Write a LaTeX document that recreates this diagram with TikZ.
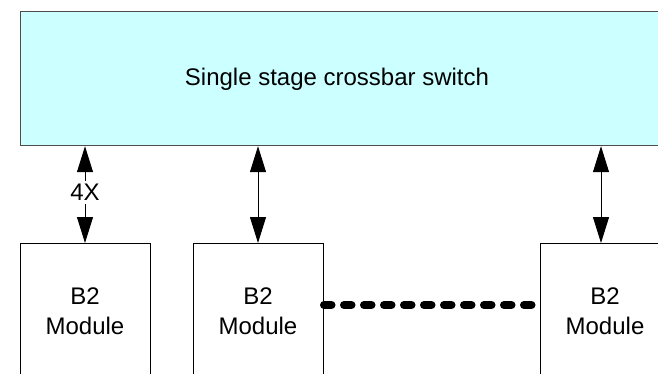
\documentclass[tikz,border=0pt]{standalone}
\usepackage{fontspec}
\setmainfont{Liberation Sans}
\usetikzlibrary{arrows.meta}
\definecolor{switchfill}{HTML}{CCFFFF}
\definecolor{switchdraw}{HTML}{4D4D4D}
\tikzset{
  switchbox/.style={draw=switchdraw, line width=1.2pt, fill=switchfill, rectangle, inner sep=0pt, anchor=north west, minimum width=660pt, minimum height=134pt},
  modbox/.style={draw=black, line width=1pt, rectangle, inner sep=0pt, anchor=north west, minimum width=130pt, minimum height=160pt},
  lbl/.style={font=\fontsize{24}{30}\selectfont, inner sep=0pt, anchor=base},
  link/.style={line width=1pt, {Triangle[length=26pt,width=16pt]}-{Triangle[length=26pt,width=16pt]}},
  dots/.style={line width=8pt, line cap=round, dash pattern=on 7.5pt off 12.5pt}
}
\begin{document}
\begin{tikzpicture}[x=1pt,y=-1pt]
\useasboundingbox (0,0) rectangle (658,374);
\node[switchbox] (sw) at (20,11) {};
\node[lbl] (swlabel) at (337,86) {Single stage crossbar switch};
\node[modbox] (m1) at (20,243) {};
\node[modbox] (m2) at (193,243) {};
\node[modbox] (m3) at (540,243) {};
\node[lbl] (m1a) at (85,304) {B2};
\node[lbl] (m1b) at (85,334) {Module};
\node[lbl] (m2a) at (258,304) {B2};
\node[lbl] (m2b) at (258,334) {Module};
\node[lbl] (m3a) at (605,304) {B2};
\node[lbl] (m3b) at (605,334) {Module};
\coordinate (a1) at (85,243);
\coordinate (a2) at (258,243);
\coordinate (a3) at (601,243);
\draw[link] (a1 |- sw.south) -- (a1) node[midway, fill=white, inner sep=3pt, font=\fontsize{24}{30}\selectfont, yshift=2pt] (x4) {4X};
\draw[link] (a2 |- sw.south) -- (a2);
\draw[link] (a3 |- sw.south) -- (a3);
\coordinate (dotrow) at (0,305);
\draw[dots] (m2.north east |- dotrow) -- (m3.north west |- dotrow);
\end{tikzpicture}
\end{document}
